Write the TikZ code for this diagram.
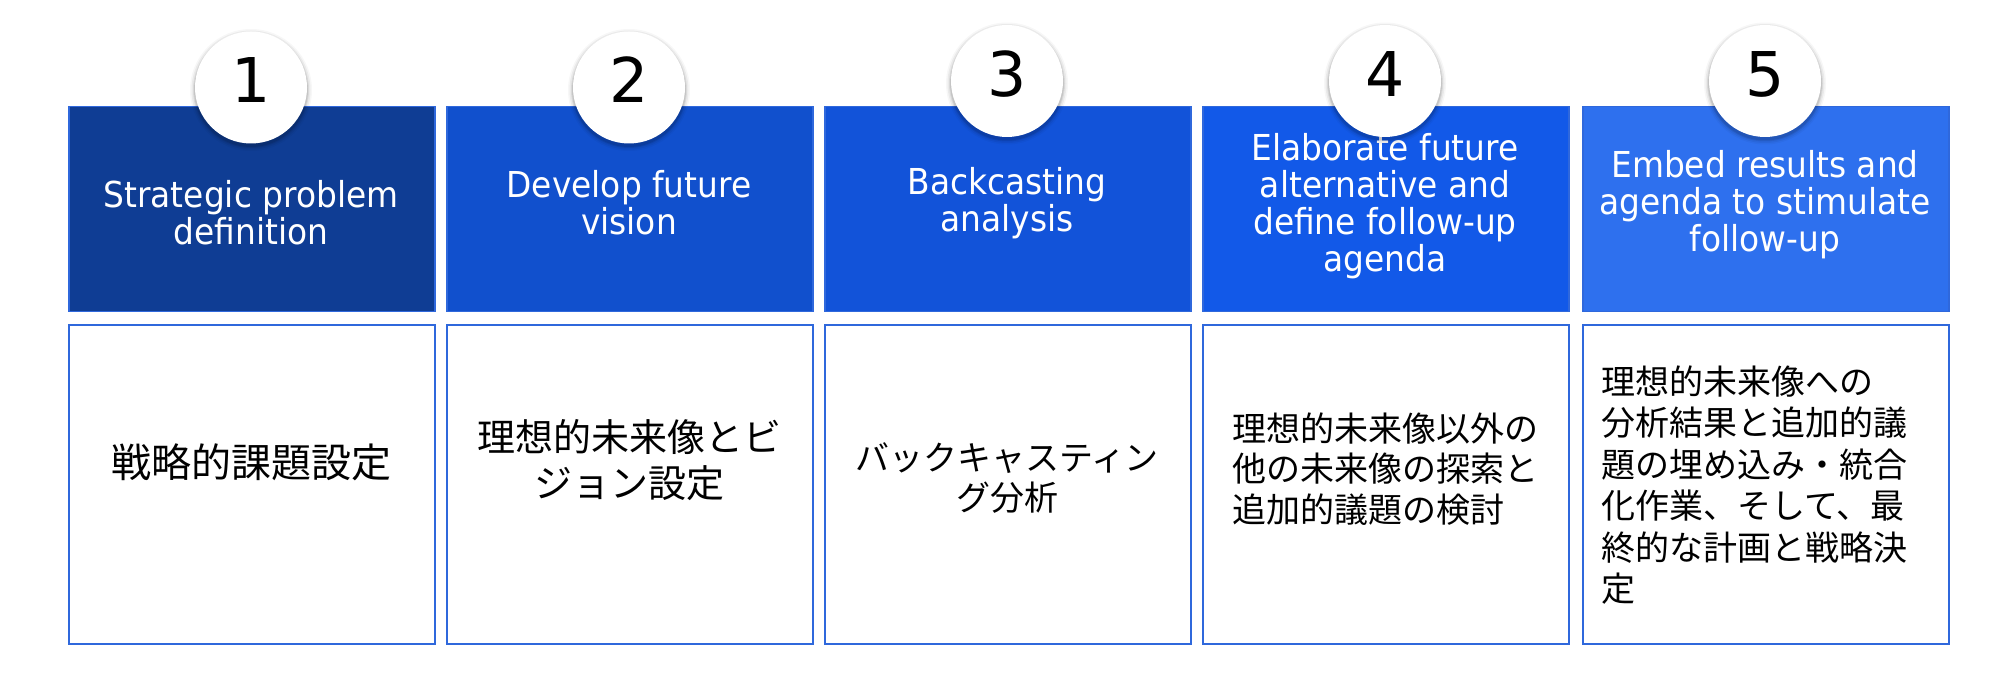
\documentclass[tikz,border=0pt]{standalone}
\usepackage{fontspec}
\setmainfont{DejaVu Sans}
\newfontfamily\enfont{DejaVu Sans}[FakeStretch=0.92]
\newfontfamily\numfont{DejaVu Sans}
\newfontfamily\jafont{Noto Sans CJK JP}

\definecolor{stepA}{HTML}{0F3D94}
\definecolor{stepB}{HTML}{1150CD}
\definecolor{stepC}{HTML}{1253D9}
\definecolor{stepD}{HTML}{1259E8}
\definecolor{stepE}{HTML}{2E70EE}
\definecolor{edgeblue}{HTML}{2F68DC}

\begin{document}
\begin{tikzpicture}[x=1pt,y=-1pt,
  headbox/.style={draw=edgeblue, line width=1.5pt, minimum width=366pt,
    minimum height=205pt, anchor=north west, inner sep=0pt},
  descbox/.style={draw=edgeblue, fill=white, line width=1.6pt, minimum width=366pt,
    minimum height=319pt, anchor=north west, inner sep=0pt},
  headtext/.style={text=white, align=center, inner sep=0pt,
    font=\enfont\fontsize{35.7}{37}\selectfont},
  badge/.style={circle, fill=white, minimum size=112pt, inner sep=0pt},
  badgenum/.style={anchor=base, inner sep=0pt, font=\numfont\fontsize{61.7}{62}\selectfont},
  jatext/.style={inner sep=0pt, text=black}
]
\useasboundingbox (0,0) rectangle (2010,692);

% coloured step headers
\node[headbox, fill=stepA] (h1) at (68,106) {};
\node[headbox, fill=stepB] (h2) at (446,106) {};
\node[headbox, fill=stepC] (h3) at (824,106) {};
\node[headbox, fill=stepD] (h4) at (1202,106) {};
\node[headbox, fill=stepE] (h5) at (1582,106) {};

% description boxes
\node[descbox] (d1) at (68,324) {};
\node[descbox] (d2) at (446,324) {};
\node[descbox] (d3) at (824,324) {};
\node[descbox] (d4) at (1202,324) {};
\node[descbox] (d5) at (1582,324) {};

% header texts
\node[headtext] (t1) at (251,213) {Strategic problem\\definition};
\node[headtext] (t2) at (629,203) {Develop future\\vision};
\node[headtext] (t3) at (1007,203) {Backcasting\\analysis};
\node[headtext] (t4) at (1385,206) {Elaborate future\\alternative and\\define follow-up\\agenda};
\node[headtext] (t5) at (1765,205) {Embed results and\\agenda to stimulate\\follow-up};

% numbered badges with a soft shadow
\foreach \i/\cx/\cy in {1/251/87.5, 2/629/87.5, 3/1007/81, 4/1385/81, 5/1765/81}{
  \foreach \r/\o in {61/0.03, 59.5/0.05, 58/0.07, 57/0.09}{
    \fill[black, opacity=\o] (\cx,\cy+2.5) circle (\r pt);
  }
  \node[badge] (n\i) at (\cx,\cy) {};
  \node[badgenum] (k\i) at (\cx,\cy+15.5) {\i};
}

% Japanese descriptions
\node[jatext, font=\jafont\fontsize{40}{46}\selectfont] (j1) at (251,462) {戦略的課題設定};
\node[jatext, align=center, font=\jafont\fontsize{38}{46}\selectfont] (j2) at (629,460)
  {理想的未来像とビ\\ジョン設定};
\node[jatext, align=center, font=\jafont\fontsize{34}{40}\selectfont] (j3) at (1007,478)
  {バックキャスティン\\グ分析};
\node[jatext, align=left, font=\jafont\fontsize{34}{40.5}\selectfont] (j4) at (1385,469)
  {理想的未来像以外の\\他の未来像の探索と\\追加的議題の検討};
\node[jatext, align=left, anchor=west, font=\jafont\fontsize{34}{41.5}\selectfont] (j5) at (1601,485)
  {理想的未来像への\\分析結果と追加的議\\題の埋め込み・統合\\化作業、そして、最\\終的な計画と戦略決\\定};
\end{tikzpicture}
\end{document}
